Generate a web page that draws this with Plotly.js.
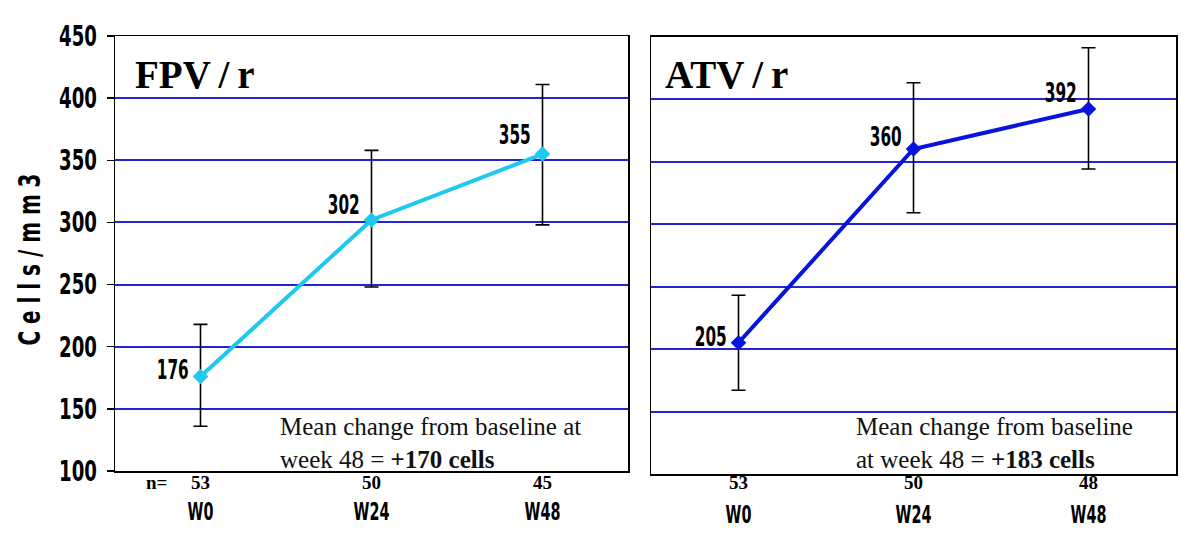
<!DOCTYPE html>
<html>
<head>
<meta charset="utf-8">
<script src="https://cdn.plot.ly/plotly-3.0.1.min.js"></script>
<style>html,body{margin:0;padding:0;background:#fff;}#chart{width:1200px;height:539px;}</style>
</head>
<body>
<div id="chart"></div>
<script>
// ---- data ----
var weeks = ["W0", "W24", "W48"];
var fpvMean = [176, 302, 355];
var fpvErrPlus = [42, 56, 56];
var fpvErrMinus = [40, 54, 57];
var fpvN = [53, 50, 45];
var atvMean = [205, 360, 392];
var atvErrPlus = [38, 53, 49];
var atvErrMinus = [38, 51, 48];
var atvN = [53, 50, 48];
var yTicks = [100, 150, 200, 250, 300, 350, 400, 450];
var panelTitles = ["FPV/r", "ATV/r"];
var noteTexts = [
  "Mean change from baseline at<br>week 48 = <b>+170 cells</b>",
  "Mean change from baseline<br>at week 48 = <b>+183 cells</b>"
];
var yTitle = "C e l l s / m m 3";

// ---- styles ----
var SANS = "'DejaVu Sans Condensed', 'DejaVu Sans', sans-serif";
var SERIF = "'Liberation Serif', 'Times New Roman', serif";
var GRID = "#2424d4";
var labelLift = {fpv: [7, 15, 20], atv: [6, 13, 17]};

function series(mean, plus, minus, color, xa, ya) {
  return {
    type: "scatter", mode: "lines+markers",
    x: weeks, y: mean, xaxis: xa, yaxis: ya,
    line: {color: color, width: 4},
    marker: {symbol: "diamond", size: 12, color: color},
    error_y: {type: "data", symmetric: false, array: plus, arrayminus: minus,
              color: "#000", thickness: 1.6, width: 7},
    hoverinfo: "x+y", showlegend: false
  };
}

var data = [
  series(fpvMean, fpvErrPlus, fpvErrMinus, "#1ec8f0", "x", "y"),
  series(atvMean, atvErrPlus, atvErrMinus, "#0814dc", "x2", "y2")
];

var annotations = [];
var annAdjust = []; // per annotation: {k, edge, mode}
function addAnn(a, adj) { annotations.push(a); annAdjust.push(adj || null); }

function addValueLabels(vals, xa, ya, lifts) {
  vals.forEach(function (v, i) {
    addAnn({x: weeks[i], y: v, xref: xa, yref: ya, text: String(v),
      showarrow: false, xanchor: "right", yanchor: "middle", xshift: -10, yshift: lifts[i],
      font: {family: SANS, size: 27, color: "#000", weight: "bold"}},
      {k: 0.63, edge: "right", mode: "spacingAndGlyphs"});
  });
}
addValueLabels(fpvMean, "x", "y", labelLift.fpv);
addValueLabels(atvMean, "x2", "y2", labelLift.atv);

function addN(ns, xa) {
  ns.forEach(function (n, i) {
    addAnn({x: weeks[i], y: 1 - 482 / 539, xref: xa, yref: "paper", text: String(n),
      showarrow: false, xanchor: "center", yanchor: "middle",
      font: {family: SERIF, size: 19, color: "#000", weight: "bold"}});
  });
}
addN(fpvN, "x");
addN(atvN, "x2");
addAnn({x: 156 / 1200, y: 1 - 482 / 539, xref: "paper", yref: "paper", text: "n=",
  showarrow: false, xanchor: "center", yanchor: "middle",
  font: {family: SERIF, size: 19, color: "#000", weight: "bold"}});

// panel titles (thin spaces around the slash, as in the original typesetting)
function spacedTitle(t) { return t.replace("/", "\u2009/\u2009"); }
addAnn({x: 133 / 1200, y: 1 - 75 / 539, xref: "paper", yref: "paper", text: spacedTitle(panelTitles[0]),
  showarrow: false, xanchor: "left", yanchor: "middle", font: {family: SERIF, size: 39, color: "#000", weight: "bold"}});
addAnn({x: 663 / 1200, y: 1 - 75 / 539, xref: "paper", yref: "paper", text: spacedTitle(panelTitles[1]),
  showarrow: false, xanchor: "left", yanchor: "middle", font: {family: SERIF, size: 39, color: "#000", weight: "bold"}});

// notes
addAnn({x: 278 / 1200, y: 1 - 443 / 539, xref: "paper", yref: "paper", text: noteTexts[0],
  showarrow: false, xanchor: "left", yanchor: "middle", align: "left",
  font: {family: SERIF, size: 25, color: "#111"}});
addAnn({x: 854 / 1200, y: 1 - 443 / 539, xref: "paper", yref: "paper", text: noteTexts[1],
  showarrow: false, xanchor: "left", yanchor: "middle", align: "left",
  font: {family: SERIF, size: 25, color: "#111"}});

var xBase = {
  type: "category", range: [-0.5, 2.5], showgrid: false, zeroline: false,
  showline: true, mirror: true, linecolor: "#000", linewidth: 1.5,
  ticks: "", ticklabelstandoff: 17,
  tickfont: {family: SANS, size: 25, color: "#000", weight: "bold"}
};
var yBase = {
  range: [100, 450], tickvals: yTicks, showgrid: true, gridcolor: GRID, gridwidth: 2,
  zeroline: false, showline: true, mirror: true, linecolor: "#000", linewidth: 1.5
};

var layout = {
  width: 1200, height: 539,
  margin: {l: 0, r: 0, t: 0, b: 0},
  paper_bgcolor: "#fff", plot_bgcolor: "#fff",
  showlegend: false,
  xaxis: Object.assign({}, xBase, {domain: [115 / 1200, 628 / 1200], anchor: "y"}),
  xaxis2: Object.assign({}, xBase, {domain: [651 / 1200, 1176 / 1200], anchor: "y2"}),
  yaxis: Object.assign({}, yBase, {
    domain: [1 - 471 / 539, 1 - 36 / 539], anchor: "x",
    ticks: "outside", ticklen: 7, tickcolor: "#000", tickwidth: 1.5, ticklabelstandoff: 4,
    tickfont: {family: SANS, size: 28, color: "#000", weight: "bold"},
    title: {text: yTitle, standoff: 0, font: {family: SANS, size: 30, color: "#000", weight: "bold"}}
  }),
  yaxis2: Object.assign({}, yBase, {
    domain: [1 - 474 / 539, 1 - 36.5 / 539], anchor: "x2", showticklabels: false, ticks: ""
  }),
  annotations: annotations
};

// horizontal condensing of single-line text to mimic the narrow fonts of the original
function fitText(el, k, edge, mode) {
  if (!el || typeof el.getComputedTextLength !== "function") return;
  var w = el.getComputedTextLength();
  if (!w) return;
  var nw = w * k;
  var anchor = el.getAttribute("text-anchor") || "start";
  if (anchor === "middle" && edge && edge !== "center") {
    var x = parseFloat(el.getAttribute("x") || "0");
    if (edge === "left") x = x - w / 2 + nw / 2;
    if (edge === "right") x = x + w / 2 - nw / 2;
    el.setAttribute("x", x);
  }
  el.setAttribute("textLength", nw);
  el.setAttribute("lengthAdjust", mode || "spacingAndGlyphs");
}

Plotly.newPlot("chart", data, layout, {displayModeBar: false, staticPlot: true}).then(function (gd) {
  gd.querySelectorAll(".yaxislayer-above .ytick text").forEach(function (t) { fitText(t, 0.72); });
  gd.querySelectorAll(".xaxislayer-above .xtick text, .xaxislayer-above .x2tick text").forEach(function (t) { fitText(t, 0.64); });
  var ytg = gd.querySelector(".g-ytitle");
  var yt = gd.querySelector(".g-ytitle text");
  if (yt) { var w = yt.getComputedTextLength(); if (w) fitText(yt, 172 / w); }
  if (ytg) ytg.setAttribute("transform", "translate(5,6)");
  annAdjust.forEach(function (adj, i) {
    if (!adj) return;
    var t = gd.querySelector('.annotation[data-index="' + i + '"] text.annotation-text');
    fitText(t, adj.k, adj.edge, adj.mode);
  });
});
</script>
</body>
</html>
